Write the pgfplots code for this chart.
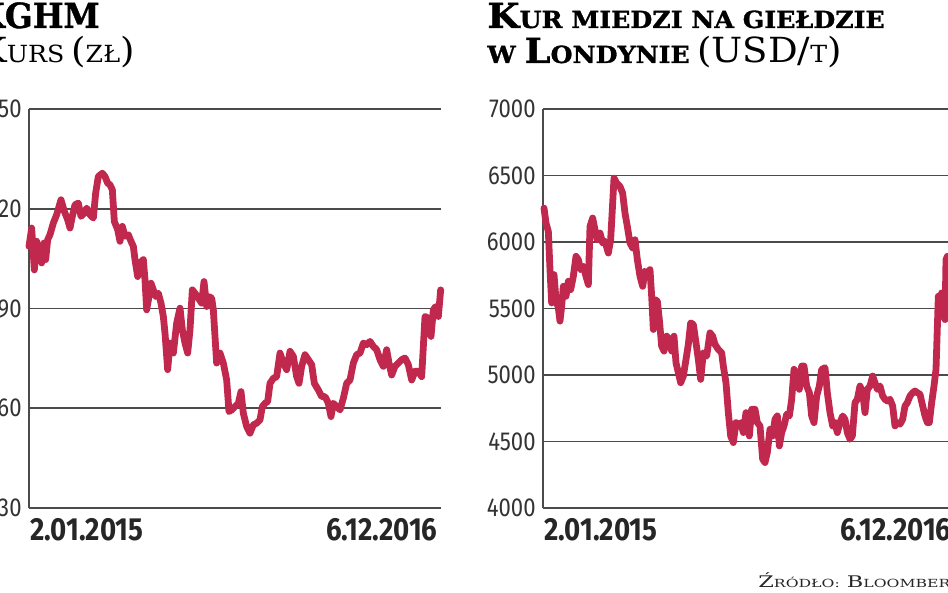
\documentclass[border=0pt]{standalone}
\usepackage{fontspec}
\usepackage{graphicx}
\usepackage{pgfplots}
\pgfplotsset{compat=1.18}
\setmainfont{DejaVu Serif}
\newfontfamily\titlefont[FakeStretch=1.07,BoldFeatures={FakeBold=1.2}]{DejaVu Serif}
\newfontfamily\srcfont[FakeStretch=1.4]{DejaVu Serif}
\newfontfamily\tickfont[FakeStretch=0.85]{Fira Sans}
\newfontfamily\datefont[FakeStretch=0.865]{Fira Sans}
\definecolor{linec}{RGB}{193,40,78}
\definecolor{gridc}{RGB}{75,75,75}
\newcommand\BigT[1]{{\fontsize{17.3}{20}\selectfont #1}}
\newcommand\SmT[1]{{\fontsize{11.8}{14}\selectfont #1}}
\pgfplotsset{panel/.style={
  scale only axis, width=206pt, height=199.5pt,
  axis x line=bottom, axis y line=left,
  axis line style={gridc, line width=0.8pt, -},
  xtick=\empty, ymajorgrids, grid style={gridc, line width=0.8pt},
  major tick length=0pt, clip=false,
  yticklabel style={font=\tickfont\fontsize{13}{13}\selectfont, text=black!80, anchor=east, inner sep=0pt, xshift=-3.5pt},
}}
\tikzset{datelab/.style={inner sep=0pt, text=black!85, font=\datefont\bfseries\fontsize{16}{16}\selectfont}}
\begin{document}
\begin{tikzpicture}
\begin{scope}
\clip (0,0) rectangle (474pt,296.5pt);
% left panel
\begin{axis}[panel, at={(14.5pt,42.5pt)}, anchor=south west,
  xmin=12, xmax=1248, ymin=30, ymax=150,
  ytick={30,60,90,120,150}, yticklabels={30,60,90,120,150}]
\addplot[linec, line width=3.4pt, line join=round, line cap=round] coordinates {
(12,108.7)(20,114.2)(28,101.6)(35,110.2)(42,107.7)(50,103.7)(57,109.7)(62,104.7)(68,110.7)(75,112.2)(85,115.7)(95,118.2)(108,122.7)(118,119.2)(128,116.7)(135,114.2)(142,117.7)(150,121.2)(160,121.7)(168,117.7)(178,118.7)(185,120.2)(195,118.2)(205,117.2)(212,124.7)(220,129.7)(232,130.7)(240,129.7)(248,127.7)(255,127.2)(262,125.7)(268,116.2)(278,113.7)(285,110.2)(292,114.7)(300,111.7)(310,112.2)(318,110.2)(325,108.7)(330,104.7)(338,99.6)(345,103.7)(355,104.7)(360,98.6)(365,89.6)(372,93.6)(378,97.6)(385,95.6)(392,93.6)(400,94.6)(408,91.6)(415,87.6)(420,82.6)(428,71.6)(435,79.6)(445,76.6)(455,85.6)(465,90.1)(472,83.6)(480,79.6)(488,76.6)(495,83.6)(502,95.6)(510,94.6)(520,93.1)(530,91.6)(537,98.1)(545,90.6)(552,93.6)(560,93.1)(565,89.6)(570,81.6)(575,73.6)(585,76.6)(595,73.6)(605,68.5)(612,59.0)(620,59.5)(630,60.5)(640,61.5)(648,65.0)(655,58.5)(665,54.5)(675,52.5)(685,55.0)(695,55.5)(705,56.5)(712,60.5)(720,61.5)(728,62.0)(735,67.5)(745,69.0)(755,69.5)(765,76.6)(775,73.6)(785,71.6)(795,77.1)(805,75.6)(815,69.5)(822,67.5)(830,72.6)(840,76.1)(850,74.6)(860,73.1)(868,67.5)(880,65.5)(890,63.5)(900,63.5)(910,61.5)(918,57.5)(925,61.5)(935,60.5)(945,59.5)(955,63.0)(965,67.5)(975,68.5)(985,73.6)(995,76.1)(1005,76.6)(1015,79.6)(1025,79.1)(1035,80.1)(1045,78.6)(1055,77.6)(1065,74.6)(1075,72.6)(1085,77.6)(1092,73.6)(1100,70.0)(1110,72.6)(1120,73.6)(1130,74.6)(1140,75.1)(1150,73.1)(1160,68.5)(1170,71.1)(1180,71.1)(1190,69.5)(1200,87.6)(1210,87.1)(1218,81.6)(1225,89.6)(1232,90.6)(1240,87.6)(1247,95.6)};
\node[datelab, anchor=north west] at (rel axis cs:0.002,0) [yshift=-5pt] {2.01.2015};
\node[datelab, anchor=north east] at (rel axis cs:1,0) [yshift=-5pt, xshift=-1.5pt] {6.12.2016};
\end{axis}
% right panel
\begin{axis}[panel, at={(271.5pt,42.5pt)}, anchor=south west,
  xmin=9, xmax=1245, ymin=4000, ymax=7000,
  ytick={4000,4500,5000,5500,6000,6500,7000}, yticklabels={4000,4500,5000,5500,6000,6500,7000}]
\addplot[linec, line width=3.4pt, line join=round, line cap=round] coordinates {
(12,6255)(18,6142)(25,6080)(30,5792)(35,5542)(42,5755)(48,5567)(55,5505)(60,5405)(65,5517)(70,5667)(78,5592)(85,5705)(92,5642)(100,5742)(108,5892)(115,5867)(122,5792)(130,5817)(138,5742)(145,5680)(150,6117)(158,6180)(165,6092)(172,6017)(180,6067)(188,5992)(195,6005)(205,5917)(212,6017)(218,6292)(222,6480)(230,6442)(240,6417)(248,6367)(255,6217)(262,6117)(270,5992)(278,5955)(285,6017)(292,5867)(300,5742)(308,5667)(315,5780)(322,5767)(330,5792)(335,5592)(340,5342)(345,5567)(352,5555)(358,5417)(365,5217)(372,5180)(380,5292)(388,5267)(395,5180)(402,5292)(408,5092)(415,5017)(422,4942)(430,4992)(438,5117)(445,5230)(452,5392)(460,5380)(468,5242)(475,5117)(482,4967)(490,5167)(500,5142)(510,5317)(518,5292)(525,5230)(535,5192)(545,5167)(550,5067)(558,4942)(565,4717)(572,4542)(580,4492)(588,4642)(595,4617)(602,4642)(610,4567)(618,4717)(628,4542)(635,4742)(645,4742)(652,4642)(660,4617)(668,4367)(675,4342)(682,4417)(690,4592)(698,4542)(705,4667)(712,4692)(718,4467)(725,4567)(732,4617)(740,4705)(748,4692)(755,4817)(762,5042)(770,5017)(778,4892)(785,5067)(792,5067)(800,4917)(808,4867)(815,4692)(822,4642)(830,4842)(838,4917)(845,5042)(855,5055)(862,4867)(870,4717)(878,4617)(885,4642)(892,4567)(900,4642)(908,4692)(915,4667)(922,4567)(930,4517)(937,4542)(945,4792)(952,4817)(960,4917)(968,4867)(975,4717)(982,4892)(990,4917)(998,4992)(1005,4942)(1012,4892)(1020,4917)(1028,4842)(1035,4817)(1042,4805)(1050,4817)(1058,4767)(1065,4617)(1072,4642)(1080,4630)(1088,4667)(1095,4767)(1102,4792)(1110,4842)(1118,4867)(1125,4880)(1132,4867)(1140,4855)(1148,4767)(1155,4692)(1162,4642)(1168,4642)(1175,4792)(1182,4917)(1188,5042)(1195,5592)(1200,5567)(1205,5617)(1210,5442)(1215,5417)(1218,5867)(1222,5892)(1230,5792)(1238,5840)(1245,5800)};
\node[datelab, anchor=north west] at (rel axis cs:0.002,0) [yshift=-5pt] {2.01.2015};
\node[datelab, anchor=north east] at (rel axis cs:1,0) [yshift=-5pt, xshift=-1.5pt] {6.12.2016};
\end{axis}
% titles
\node[anchor=base east, inner sep=0pt, font=\titlefont\bfseries] at (50pt,282.5pt) {\scalebox{0.88}[1]{\BigT{KGHM}}};
\node[anchor=base east, inner sep=0pt, font=\titlefont] at (67.5pt,265pt) {\BigT{K}\SmT{URS} \BigT{(}\SmT{ZŁ}\BigT{)}};
\node[anchor=base west, inner sep=0pt, font=\titlefont\bfseries] at (243.5pt,282.5pt) {\BigT{K}\SmT{UR MIEDZI NA GIEŁDZIE}};
\node[anchor=base west, inner sep=0pt, font=\titlefont\bfseries] at (243.5pt,265pt) {\SmT{W }\BigT{L}\SmT{ONDYNIE} {\mdseries\BigT{(USD/}\SmT{T}\BigT{)}}};
\node[anchor=base west, inner sep=0pt, font=\srcfont, text=black!85] at (379pt,2.5pt) {\fontsize{8}{9}\selectfont Ź{\fontsize{5.6}{6}\selectfont RÓDŁO:} B{\fontsize{5.6}{6}\selectfont LOOMBERG}};
\end{scope}
\pgfresetboundingbox
\useasboundingbox (0,0) rectangle (474pt,296.5pt);
\end{tikzpicture}
\end{document}
